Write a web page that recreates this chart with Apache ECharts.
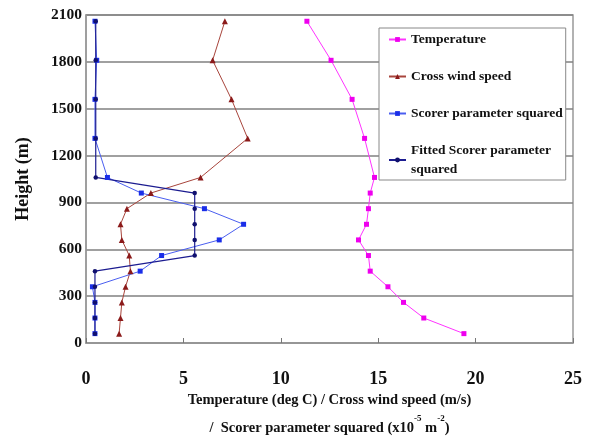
<!DOCTYPE html>
<html>
<head>
<meta charset="utf-8">
<script src="https://cdn.jsdelivr.net/npm/echarts@6/dist/echarts.min.js"></script>
<style>
  html, body { margin: 0; padding: 0; background: #fff; }
  #chart { width: 590px; height: 437px; }
</style>
</head>
<body>
<div id="chart"></div>
<script>
// heights (m) shared by every profile
const heights = [60, 160, 260, 360, 460, 560, 660, 760, 860, 960, 1060, 1310, 1560, 1810, 2060];
const temperature = [19.4, 17.34, 16.3, 15.5, 14.59, 14.5, 13.99, 14.4, 14.5, 14.59, 14.81, 14.3, 13.66, 12.58, 11.34];
const crossWind = [1.7, 1.77, 1.84, 2.03, 2.28, 2.22, 1.84, 1.77, 2.1, 3.33, 5.88, 8.3, 7.47, 6.5, 7.13];
const scorer = [0.46, 0.46, 0.46, 0.33, 2.78, 3.88, 6.84, 8.09, 6.08, 2.84, 1.1, 0.46, 0.46, 0.55, 0.46];
const fittedScorer = [0.46, 0.46, 0.46, 0.46, 0.46, 5.58, 5.58, 5.58, 5.58, 5.58, 0.5, 0.5, 0.5, 0.5, 0.5];
const seriesNames = ["Temperature", "Cross wind speed", "Scorer parameter squared", "Fitted Scorer parameter squared"];

const FONT = "Liberation Serif";
const pairs = (vals) => vals.map((v, i) => [v, heights[i]]);

const chart = echarts.init(document.getElementById("chart"));

const option = {
  backgroundColor: "#fff",
  animation: false,
  grid: {
    left: 86, right: 17, top: 15, bottom: 94,
    outerBoundsMode: "none",
    show: true, borderColor: "#999", borderWidth: 1.5
  },
  legend: {
    orient: "vertical",
    left: 379, top: 28,
    padding: [2, 3, 1, 9],
    itemGap: 18,
    itemWidth: 17,
    itemHeight: 6,
    borderColor: "#888",
    borderWidth: 1,
    backgroundColor: "#fff",
    data: seriesNames,
    formatter: (n) => n === seriesNames[3] ? "Fitted Scorer parameter\nsquared" : n,
    textStyle: { fontFamily: FONT, fontWeight: "bold", fontSize: 13.5, color: "#111", lineHeight: 19 }
  },
  xAxis: {
    type: "value",
    min: 0, max: 25, interval: 5,
    axisLine: { lineStyle: { color: "#999", width: 1.5 } },
    axisTick: { inside: true, length: 5, lineStyle: { color: "#777" } },
    splitLine: { show: false },
    axisLabel: { margin: 27, fontFamily: FONT, fontWeight: "bold", fontSize: 18, color: "#111" },
    nameLocation: "middle",
    nameGap: 42,
    name: "{a|Temperature (deg C) / Cross wind speed (m/s)}\n{a|/  Scorer parameter squared (x10}{s|-5}{a| m}{s|-2}{a|)}",
    nameTextStyle: {
      rich: {
        a: { fontFamily: FONT, fontWeight: "bold", fontSize: 14.5, color: "#111", lineHeight: 28 },
        s: { fontFamily: FONT, fontWeight: "bold", fontSize: 9, color: "#111", verticalAlign: "top", padding: [0, 0, 4, 0] }
      }
    }
  },
  yAxis: {
    type: "value",
    min: 0, max: 2100, interval: 300,
    axisLine: { show: true, lineStyle: { color: "#999", width: 1.5 } },
    axisTick: { show: false },
    splitLine: { lineStyle: { color: "#808080", width: 1.5 } },
    axisLabel: {
      margin: 4, fontFamily: FONT, fontWeight: "bold", fontSize: 15.5, color: "#111",
      formatter: (v) => String(v)
    },
    name: "Height (m)",
    nameLocation: "middle",
    nameGap: 54,
    nameTextStyle: { fontFamily: FONT, fontWeight: "bold", fontSize: 18, color: "#111" }
  },
  series: [
    {
      name: seriesNames[0], type: "line", data: pairs(temperature),
      symbol: "rect", symbolSize: 5,
      lineStyle: { color: "#ff33ff", width: 1 },
      itemStyle: { color: "#ee00ee" }
    },
    {
      name: seriesNames[1], type: "line", data: pairs(crossWind),
      symbol: "triangle", symbolSize: 6,
      lineStyle: { color: "#a8453c", width: 1 },
      itemStyle: { color: "#8b1a1a" }
    },
    {
      name: seriesNames[2], type: "line", data: pairs(scorer),
      symbol: "rect", symbolSize: 5,
      lineStyle: { color: "#4a5ef0", width: 1 },
      itemStyle: { color: "#1a2ee8" }
    },
    {
      name: seriesNames[3], type: "line", data: pairs(fittedScorer),
      symbol: "circle", symbolSize: 4.5,
      lineStyle: { color: "#1c1c90", width: 1.2 },
      itemStyle: { color: "#10106e" }
    }
  ]
};

chart.setOption(option);
</script>
</body>
</html>
